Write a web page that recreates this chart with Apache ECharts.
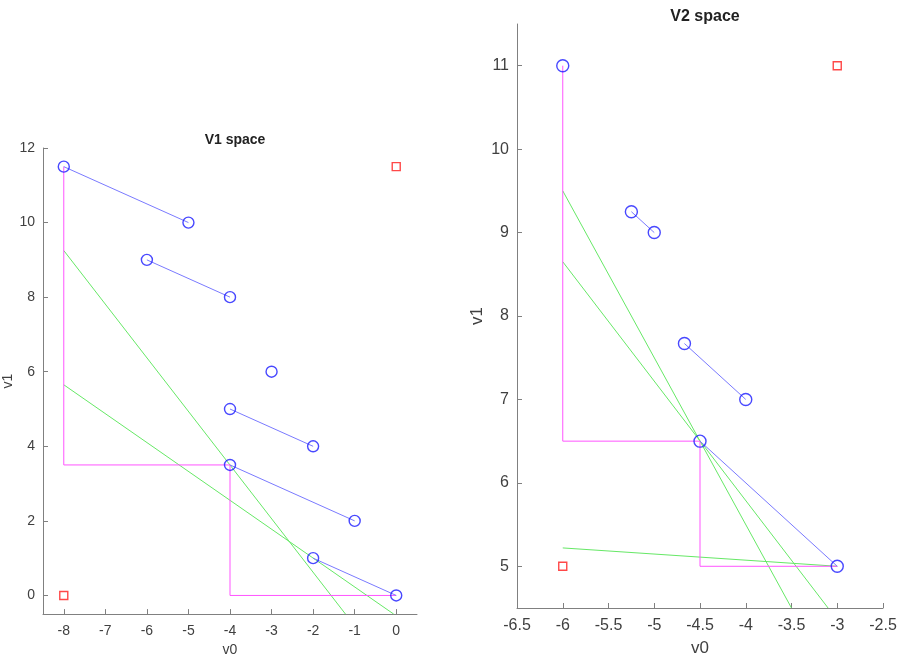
<!DOCTYPE html>
<html>
<head>
<meta charset="utf-8">
<script src="https://cdn.jsdelivr.net/npm/echarts@6/dist/echarts.min.js"></script>
<style>html,body{margin:0;padding:0;background:#fff}#c{width:902px;height:662px}</style>
</head>
<body>
<div id="c"></div>
<script>
// ---------- V1 space data ----------
var v1Segments = [
  [[-8, 11.5], [-5, 10]],
  [[-6, 9], [-4, 8]],
  [[-3, 6]],
  [[-4, 5], [-2, 4]],
  [[-4, 3.5], [-1, 2]],
  [[-2, 1], [0, 0]]
];
var v1Squares = [[-8, 0], [0, 11.5]];
var v1Path = [[-8, 11.5], [-8, 3.5], [-4, 3.5], [-4, 0], [0, 0]];
var v1Green = [
  [[-8, 9.25], [-1.22, -0.5]],
  [[-8, 5.65], [-0.06, -0.5]]
];
var v1XTicks = [-8, -7, -6, -5, -4, -3, -2, -1, 0];
var v1YTicks = [0, 2, 4, 6, 8, 10, 12];

// ---------- V2 space data ----------
var v2Segments = [
  [[-6, 11]],
  [[-5.25, 9.25], [-5, 9]],
  [[-4.67, 7.67], [-4, 7]],
  [[-4.5, 6.5], [-3, 5]]
];
var v2Squares = [[-6, 5], [-3, 11]];
var v2Path = [[-6, 11], [-6, 6.5], [-4.5, 6.5], [-4.5, 5], [-3, 5]];
var v2Green = [
  [[-6, 9.5], [-3.5, 4.5]],
  [[-6, 8.65], [-3.1, 4.5]],
  [[-6, 5.22], [-3, 5]]
];
var v2XTicks = [-6.5, -6, -5.5, -5, -4.5, -4, -3.5, -3, -2.5];
var v2YTicks = [5, 6, 7, 8, 9, 10, 11];

var FONT = 'Liberation Sans, Arial, sans-serif';
var AX = '#808080', TXT = '#404040';
var BLUE_LINE = '#7a7aff', BLUE = '#1a1aff', MAG = '#ff55ff', GREEN = '#66e866', RED = '#ff1a1a';

function valAxis(idx, min, max, ticks, name, gap, fs, nfs, margin) {
  return {
    type: 'value', gridIndex: idx, min: min, max: max,
    name: name, nameLocation: 'middle', nameGap: gap,
    nameTextStyle: {color: TXT, fontSize: nfs, fontFamily: FONT},
    splitLine: {show: false},
    axisLine: {show: true, onZero: false, lineStyle: {color: AX, width: 1}},
    axisTick: {show: true, inside: true, length: 5, lineStyle: {color: AX}, customValues: ticks},
    axisLabel: {color: TXT, fontSize: fs, fontFamily: FONT, margin: margin, customValues: ticks, showMinLabel: true, showMaxLabel: true}
  };
}

var series = [];
function addGroup(gi, segs, squares, path, greens, cs, ss) {
  greens.forEach(function (g) {
    series.push({type: 'line', xAxisIndex: gi, yAxisIndex: gi, data: g, showSymbol: false, symbol: 'none',
      lineStyle: {color: GREEN, width: 1}, clip: true, silent: true, z: 2});
  });
  series.push({type: 'line', xAxisIndex: gi, yAxisIndex: gi, data: path, showSymbol: false, symbol: 'none',
    lineStyle: {color: MAG, width: 1}, clip: true, silent: true, z: 3});
  segs.forEach(function (s) {
    if (s.length > 1) {
      series.push({type: 'line', xAxisIndex: gi, yAxisIndex: gi, data: s, showSymbol: false, symbol: 'none',
        lineStyle: {color: BLUE_LINE, width: 1}, silent: true, z: 4});
    }
  });
  var pts = [];
  segs.forEach(function (s) { s.forEach(function (p) { pts.push(p); }); });
  series.push({type: 'scatter', xAxisIndex: gi, yAxisIndex: gi, data: pts, symbol: 'circle', symbolSize: cs,
    itemStyle: {color: 'rgba(0,0,0,0)', borderColor: BLUE, borderWidth: 1.4}, silent: true, z: 5});
  series.push({type: 'scatter', xAxisIndex: gi, yAxisIndex: gi, data: squares, symbol: 'rect', symbolSize: ss,
    itemStyle: {color: 'rgba(0,0,0,0)', borderColor: RED, borderWidth: 1.4}, silent: true, z: 5});
}
addGroup(0, v1Segments, v1Squares, v1Path, v1Green, 11, 8);
addGroup(1, v2Segments, v2Squares, v2Path, v2Green, 12, 8);

var chart = echarts.init(document.getElementById('c'), null, {renderer: 'canvas'});
chart.setOption({
  animation: false,
  backgroundColor: '#fff',
  title: [
    {text: 'V1 space', left: 230, top: 128, textAlign: 'center',
      textStyle: {fontSize: 14, fontWeight: 'bold', color: '#222', fontFamily: FONT}},
    {text: 'V2 space', left: 700, top: 4, textAlign: 'center',
      textStyle: {fontSize: 16, fontWeight: 'bold', color: '#222', fontFamily: FONT}}
  ],
  grid: [
    {left: 43, right: 485, top: 148, bottom: 43},
    {left: 517, right: 19, top: 24, bottom: 48}
  ],
  xAxis: [
    valAxis(0, -8.5, 0.5, v1XTicks, 'v0', 28, 14, 14, 10),
    valAxis(1, -6.5, -2.5, v2XTicks, 'v0', 32, 16, 17, 10)
  ],
  yAxis: [
    valAxis(0, -0.5, 12, v1YTicks, 'v1', 25, 14, 14, 8),
    valAxis(1, 4.5, 11.5, v2YTicks, 'v1', 31, 16, 17, 8)
  ],
  series: series
});
</script>
</body>
</html>
